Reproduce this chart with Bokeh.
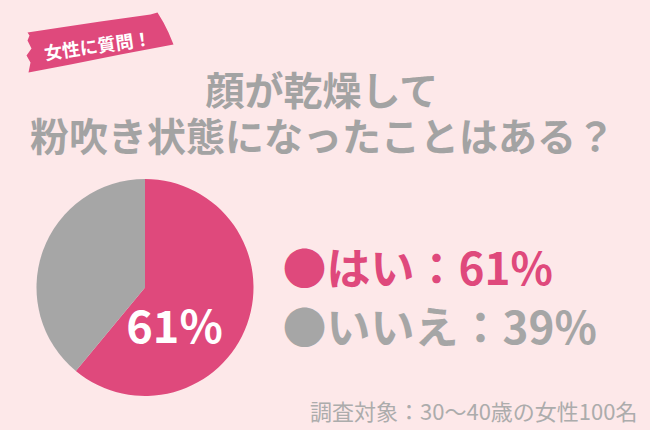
import math
from bokeh.plotting import figure
from bokeh.models import Range1d, ColumnDataSource
from bokeh.core.properties import value
from bokeh.embed import file_html
from bokeh.resources import INLINE

# ---- data ----
categories = ["はい", "いいえ"]
values = [61, 39]
colors = ["#df497c", "#a6a6a6"]
title_lines = ["顔が乾燥して", "粉吹き状態になったことはある？"]
tag_text = "女性に質問！"
note_text = "調査対象：30〜40歳の女性100名"

BG = "#fde8e9"
FONT = value("Noto Sans CJK JP")
W, H = 650, 430

def Y(y):  # reference pixel row -> data y
    return H - y

p = figure(width=W, height=H, output_backend="svg", toolbar_location=None,
           x_range=Range1d(0, W), y_range=Range1d(0, H), min_border=0)
p.axis.visible = False
p.grid.visible = False
p.outline_line_color = None
p.background_fill_color = BG
p.border_fill_color = BG

# ---- tag ribbon ----
tag_x = [27, 60, 100, 150, 157, 163, 168, 173, 120, 70, 28, 30, 26, 31, 27, 29]
tag_y = [32, 27, 21, 14, 12, 22, 32, 44, 54, 64, 72, 62, 55, 48, 40, 35]
p.patch(tag_x, [Y(v) for v in tag_y], fill_color=colors[0], line_color=None)
p.text(x=[97], y=[Y(44)], text=[tag_text], angle=math.radians(8),
       text_font=FONT, text_font_style="bold", text_font_size="18px",
       text_color="white", text_align="center", text_baseline="middle")

# ---- title ----
p.text(x=[322, 322], y=[Y(87), Y(133)], text=title_lines,
       text_font=FONT, text_font_style="bold", text_font_size="39px",
       text_color="#a3a3a3", text_align="center", text_baseline="middle")

# ---- pie ----
total = sum(values)
starts, ends = [], []
acc = 0.0
for v in values:
    a0 = math.pi / 2 - 2 * math.pi * acc / total
    acc += v
    a1 = math.pi / 2 - 2 * math.pi * acc / total
    starts.append(a1)
    ends.append(a0)
src = ColumnDataSource(dict(start=starts, end=ends, color=colors))
p.wedge(x=144.5, y=Y(287), radius=108.5, radius_units="screen",
        start_angle="start", end_angle="end", fill_color="color",
        line_color=None, source=src)
p.text(x=[174], y=[Y(323)], text=[f"{values[0]}%"],
       text_font=FONT, text_font_style="bold", text_font_size="45px",
       text_color="white", text_align="center", text_baseline="middle")

# ---- legend ----
leg_y = [Y(265), Y(324)]
p.text(x=[282, 282], y=leg_y,
       text=[f"●{c}：{v}%" for c, v in zip(categories, values)],
       text_font=FONT, text_font_style="bold", text_font_size="44px",
       text_color=colors, text_align="left", text_baseline="middle")

# ---- note ----
p.text(x=[637], y=[Y(409)], text=[note_text],
       text_font=FONT, text_font_size="22px",
       text_color="#acacac", text_align="right", text_baseline="middle")

html = file_html(p, INLINE)
html = html.replace("<head>", "<head><style>html,body{background:%s;}</style>" % BG, 1)
open("out.html", "w").write(html)
